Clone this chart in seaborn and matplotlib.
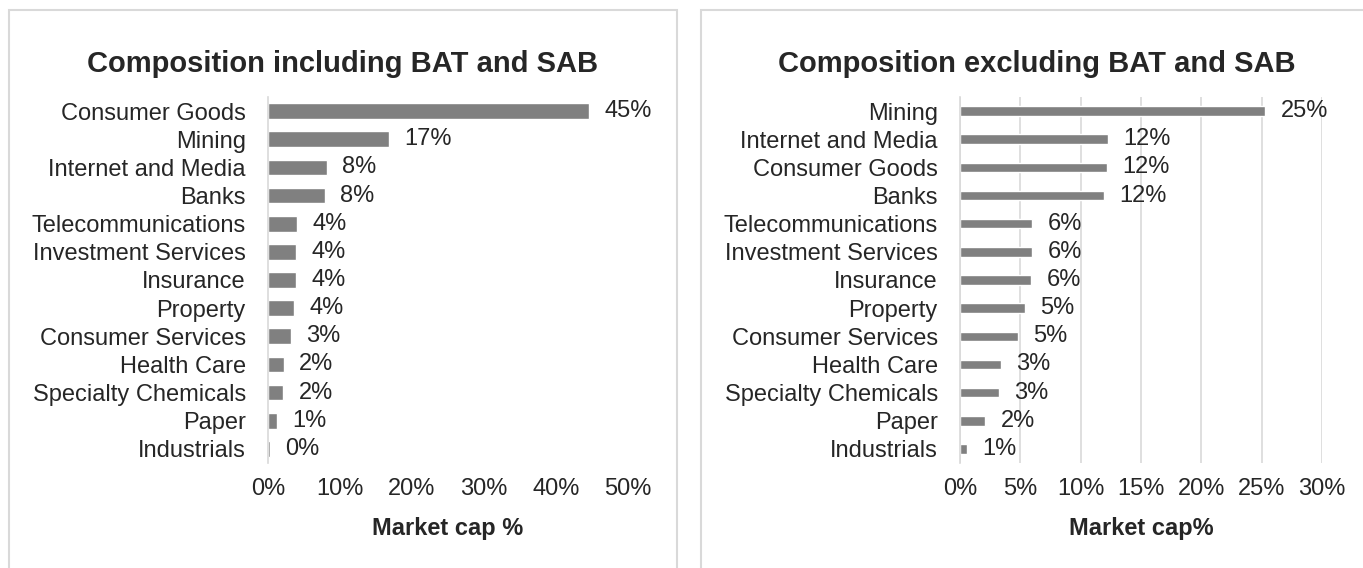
import matplotlib
matplotlib.use("Agg")
import matplotlib.pyplot as plt
import seaborn as sns
from matplotlib.patches import Rectangle

# data (market cap share, %)
cats_incl = ["Consumer Goods", "Mining", "Internet and Media", "Banks",
             "Telecommunications", "Investment Services", "Insurance",
             "Property", "Consumer Services", "Health Care",
             "Specialty Chemicals", "Paper", "Industrials"]
vals_incl = [44.6, 16.8, 8.2, 7.9, 4.0, 3.9, 3.9, 3.6, 3.2, 2.2, 2.1, 1.3, 0.3]

cats_excl = ["Mining", "Internet and Media", "Consumer Goods", "Banks",
             "Telecommunications", "Investment Services", "Insurance",
             "Property", "Consumer Services", "Health Care",
             "Specialty Chemicals", "Paper", "Industrials"]
vals_excl = [25.3, 12.3, 12.2, 11.9, 6.0, 6.0, 5.9, 5.4, 4.8, 3.4, 3.2, 2.1, 0.6]

ticks_incl = [0, 10, 20, 30, 40, 50]
ticks_excl = [0, 5, 10, 15, 20, 25, 30]

sns.set_style("white")
plt.rcParams["font.family"] = ["Liberation Sans", "DejaVu Sans"]

W, H = 1363, 568
fig = plt.figure(figsize=(W / 100, H / 100), dpi=100)

bar_col = "#808080"
line_col = "#d9d9d9"
fs = 17

# panel frames
fig.add_artist(Rectangle((9 / W, -0.1), (677 - 9) / W, 1.1 - 10 / H,
                         transform=fig.transFigure, fill=False,
                         edgecolor=line_col, lw=1.5))
fig.add_artist(Rectangle((701 / W, -0.1), 0.5, 1.1 - 10 / H,
                         transform=fig.transFigure, fill=False,
                         edgecolor=line_col, lw=1.5))

ax1 = fig.add_axes([268 / W, 1 - 463 / H, 360 / W, 366 / H])
ax2 = fig.add_axes([960 / W, 1 - 463 / H, 361.8 / W, 366 / H])


def draw(ax, cats, vals, ticks, width, xlabel, grid):
    sns.barplot(x=vals, y=cats, orient="h", color=bar_col, saturation=1,
                width=width, ax=ax)
    ax.bar_label(ax.containers[0], labels=[f"{v:.0f}%" for v in vals],
                 padding=11, fontsize=fs)
    ax.set_xlim(ticks[0], ticks[-1])
    ax.set_ylim(len(cats) - 0.5, -0.5)
    ax.set_xticks(ticks)
    ax.set_xticklabels([f"{t}%" for t in ticks])
    ax.tick_params(axis="x", length=0, pad=11, labelsize=fs)
    ax.tick_params(axis="y", length=0, pad=16, labelsize=fs)
    ax.set_ylabel("")
    ax.set_xlabel(xlabel, fontsize=fs, fontweight="bold")
    ax.xaxis.set_label_coords(0.5, -0.148)
    for s in ["top", "right", "bottom"]:
        ax.spines[s].set_visible(False)
    ax.spines["left"].set_color(line_col)
    ax.spines["left"].set_linewidth(1.2)
    if grid:
        ax.grid(axis="x", color=line_col, lw=1.2)
        ax.set_axisbelow(True)
    else:
        ax.grid(False)


draw(ax1, cats_incl, vals_incl, ticks_incl, 0.56, "Market cap %", False)
draw(ax2, cats_excl, vals_excl, ticks_excl, 0.34, "Market cap%", True)

fig.text(343 / W, 1 - 72 / H, "Composition including BAT and SAB",
         ha="center", va="baseline", fontsize=21, fontweight="bold")
fig.text(1037 / W, 1 - 72 / H, "Composition excluding BAT and SAB",
         ha="center", va="baseline", fontsize=21, fontweight="bold")

fig.savefig("out.png", dpi=100)
